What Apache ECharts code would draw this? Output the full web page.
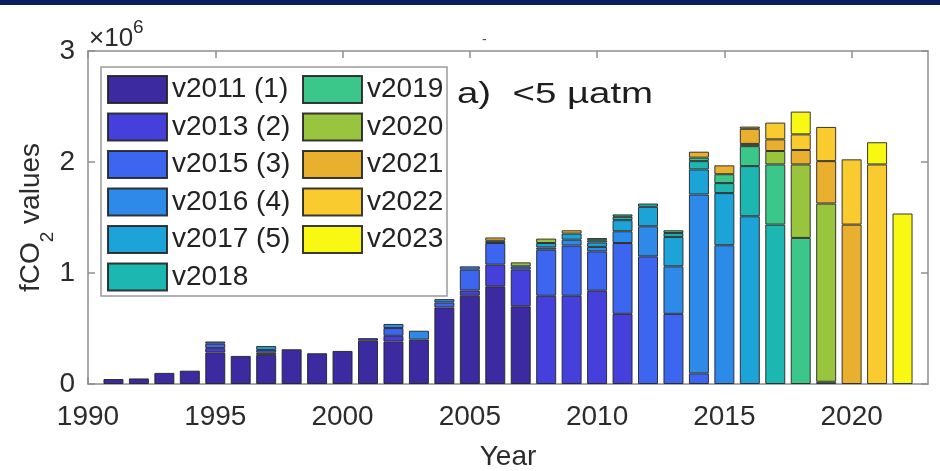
<!DOCTYPE html>
<html>
<head>
<meta charset="utf-8">
<script src="https://cdn.jsdelivr.net/npm/echarts@6/dist/echarts.min.js"></script>
<style>
html,body{margin:0;padding:0;background:#fff;}
#c{width:940px;height:471px;}
</style>
</head>
<body>
<div id="c"></div>
<script>
// ---- data (values in units of 10^6 fCO2 values) ----
const years = [1991,1992,1993,1994,1995,1996,1997,1998,1999,2000,2001,2002,2003,2004,2005,2006,2007,2008,2009,2010,2011,2012,2013,2014,2015,2016,2017,2018,2019,2020,2021,2022];
const seriesNames = ['v2011 (1)','v2013 (2)','v2015 (3)','v2016 (4)','v2017 (5)','v2018','v2019','v2020','v2021','v2022','v2023'];
const yTicks = [0,1,2,3];
const xTicks = [1990,1995,2000,2005,2010,2015,2020];
const xMin = 1990, xMax = 2023;

const v2011 = [0.045,0.05,0.10,0.12,0.283,0.253,0.262,0.313,0.277,0.298,0.39,0.382,0.40,0.69,0.795,0.88,0.70,0,0,0,0,0,0,0,0,0,0,0,0,0,0,0];
const v2013 = [0,0,0,0,0.04,0,0.02,0,0,0,0.023,0.052,0,0,0.048,0.195,0.33,0.795,0.795,0.84,0.632,0,0,0,0,0,0,0,0,0,0,0];
const v2015 = [0,0,0,0,0.04,0,0.025,0,0,0,0,0.07,0,0.045,0.187,0.195,0.03,0.415,0.452,0.355,0.638,1.15,0.632,0.096,0,0,0,0,0,0,0,0];
const v2016 = [0,0,0,0,0.02,0,0,0,0,0,0,0.037,0.08,0.03,0.03,0.02,0,0.02,0.053,0.04,0.106,0.271,0.428,1.611,1.25,0,0,0,0,0,0,0];
const v2017 = [0,0,0,0,0,0,0.035,0,0,0,0,0,0,0,0,0,0,0.04,0.055,0.04,0.10,0.175,0.265,0.226,0.47,1.511,0,0,0,0,0,0];
const v2018 = [0,0,0,0,0,0,0,0,0,0,0,0,0,0,0,0,0,0,0,0.02,0.03,0.03,0.035,0.075,0.09,0.452,1.436,0,0,0,0,0];
const v2019 = [0,0,0,0,0,0,0,0,0,0,0,0,0,0,0,0,0,0,0,0.02,0.022,0,0.025,0.031,0.08,0.18,0.542,1.316,0.02,0,0,0];
const v2020 = [0,0,0,0,0,0,0,0,0,0,0,0,0,0,0,0,0.036,0.04,0,0,0,0,0,0,0,0.02,0.121,0.662,1.606,0,0,0];
const v2021 = [0,0,0,0,0,0,0,0,0,0,0,0,0,0,0,0.03,0,0,0.03,0,0,0,0,0.054,0.08,0.136,0.105,0.13,0.382,1.436,0,0];
const v2022 = [0,0,0,0,0,0,0,0,0,0,0,0,0,0,0,0,0,0,0,0,0,0,0,0,0,0.02,0.151,0.141,0.308,0.588,1.978,0];
const v2023 = [0,0,0,0,0,0,0,0,0,0,0,0,0,0,0,0,0,0,0,0,0,0,0,0,0,0,0,0.205,0,0,0.20,1.536];

const seriesValues = [v2011,v2013,v2015,v2016,v2017,v2018,v2019,v2020,v2021,v2022,v2023];
const seriesColors = ['#3b2aa0','#4540dc','#3c66f0','#2d8ae8','#1ca3d8','#1cb7b0','#3cc78a','#98c43e','#e8b02e','#f9cb2f','#f8f812'];

// ---- chart ----
const FONT = '"Liberation Sans", Arial, Helvetica, sans-serif';
const TXT = '#2b2b2b';
const AX = '#8e8e8e';
const chart = echarts.init(document.getElementById('c'), null, {renderer:'canvas'});

// category axis covering the full year range (points at year positions)
const axisYears = [];
for (let y = xMin; y <= xMax; y++) axisYears.push(String(y));
const isMajor = (idx, val) => xTicks.indexOf(+val) >= 0;

const series = seriesNames.map((name, i) => ({
  name: name,
  type: 'bar',
  stack: 'all',
  xAxisIndex: 0,
  yAxisIndex: 0,
  barWidth: 20,
  itemStyle: {color: seriesColors[i], borderColor: 'rgba(35,35,35,0.9)', borderWidth: 1},
  emphasis: {disabled: true},
  data: axisYears.map(c => {
    const j = years.indexOf(+c);
    const v = j >= 0 ? seriesValues[i][j] : 0;
    return v > 0 ? v : {value: 0, itemStyle: {opacity: 0}};
  })
}));

const legendCommon = {
  orient: 'vertical', top: 75, itemWidth: 59, itemHeight: 27, itemGap: 8.5, padding: 0,
  icon: 'rect', selectedMode: false, z: 20,
  textStyle: {fontSize: 28, fontFamily: FONT, color: '#222'}
};

const xAxisCommon = {
  type: 'category', data: axisYears, boundaryGap: false,
  axisLine: {show: true, onZero: false, lineStyle: {color: AX, width: 1.5}},
  axisTick: {show: true, inside: true, length: 7, interval: isMajor, lineStyle: {color: AX, width: 1.5}},
  splitLine: {show: false}
};

const option = {
  animation: false,
  backgroundColor: '#ffffff',
  grid: {left: 88, right: 12, top: 51, bottom: 87, containLabel: false, outerBoundsMode: 'none'},
  legend: [
    Object.assign({data: seriesNames.slice(0, 6), left: 107}, legendCommon),
    Object.assign({data: seriesNames.slice(6), left: 302}, legendCommon)
  ],
  xAxis: [
    Object.assign({}, xAxisCommon, {
      position: 'bottom',
      axisLabel: {fontSize: 28, fontFamily: FONT, color: TXT, margin: 19, interval: isMajor},
      name: 'Year', nameLocation: 'middle', nameGap: 59, nameMoveOverlap: false,
      nameTextStyle: {fontSize: 28, fontFamily: FONT, color: TXT}
    }),
    Object.assign({}, xAxisCommon, {position: 'top', axisLabel: {show: false}})
  ],
  yAxis: [
    {
      type: 'value', min: 0, max: 3, interval: 1, position: 'left',
      axisLine: {show: true, onZero: false, lineStyle: {color: AX, width: 1.5}},
      axisTick: {show: true, inside: true, length: 7, lineStyle: {color: AX, width: 1.5}},
      axisLabel: {fontSize: 28, fontFamily: FONT, color: TXT, margin: 13,
        formatter: v => yTicks.indexOf(v) >= 0 ? String(v) : ''},
      splitLine: {show: false},
      name: '{a|fCO}{b|2}{a| values}', nameLocation: 'middle', nameGap: 31, nameMoveOverlap: false,
      nameTextStyle: {
        rich: {
          a: {fontSize: 28, fontFamily: FONT, color: TXT, lineHeight: 40, verticalAlign: 'top'},
          b: {fontSize: 19, fontFamily: FONT, color: TXT, lineHeight: 20, verticalAlign: 'bottom'}
        }
      }
    },
    {
      type: 'value', min: 0, max: 3, interval: 1, position: 'right',
      axisLine: {show: true, onZero: false, lineStyle: {color: AX, width: 1.5}},
      axisTick: {show: true, inside: true, length: 7, lineStyle: {color: AX, width: 1.5}},
      axisLabel: {show: false}, splitLine: {show: false}
    }
  ],
  graphic: [
    {type: 'rect', z: 30, shape: {x: 0, y: 0, width: 940, height: 5}, style: {fill: '#0b1d5c'}},
    {type: 'rect', z: 15, shape: {x: 101, y: 67, width: 346, height: 229},
      style: {fill: '#ffffff', stroke: '#9a9a9a', lineWidth: 1.5}},
    {type: 'text', z: 30, left: 89, top: 18,
      style: {text: '{a|×10}{b|6}', rich: {
        a: {fontSize: 26, fontFamily: FONT, fill: TXT, lineHeight: 34, verticalAlign: 'bottom'},
        b: {fontSize: 19, fontFamily: FONT, fill: TXT, lineHeight: 20, verticalAlign: 'top'}}}},
    {type: 'text', z: 30, x: 457, y: 80, scaleX: 1.28,
      style: {text: 'a)  <5 µatm', fontSize: 30, fontFamily: FONT, fill: '#1e1e1e', verticalAlign: 'top'}},
    {type: 'text', z: 30, left: 482, top: 33,
      style: {text: '-', fontSize: 14, fontFamily: FONT, fill: '#555'}}
  ],
  series: series
};
chart.setOption(option);
</script>
</body>
</html>
